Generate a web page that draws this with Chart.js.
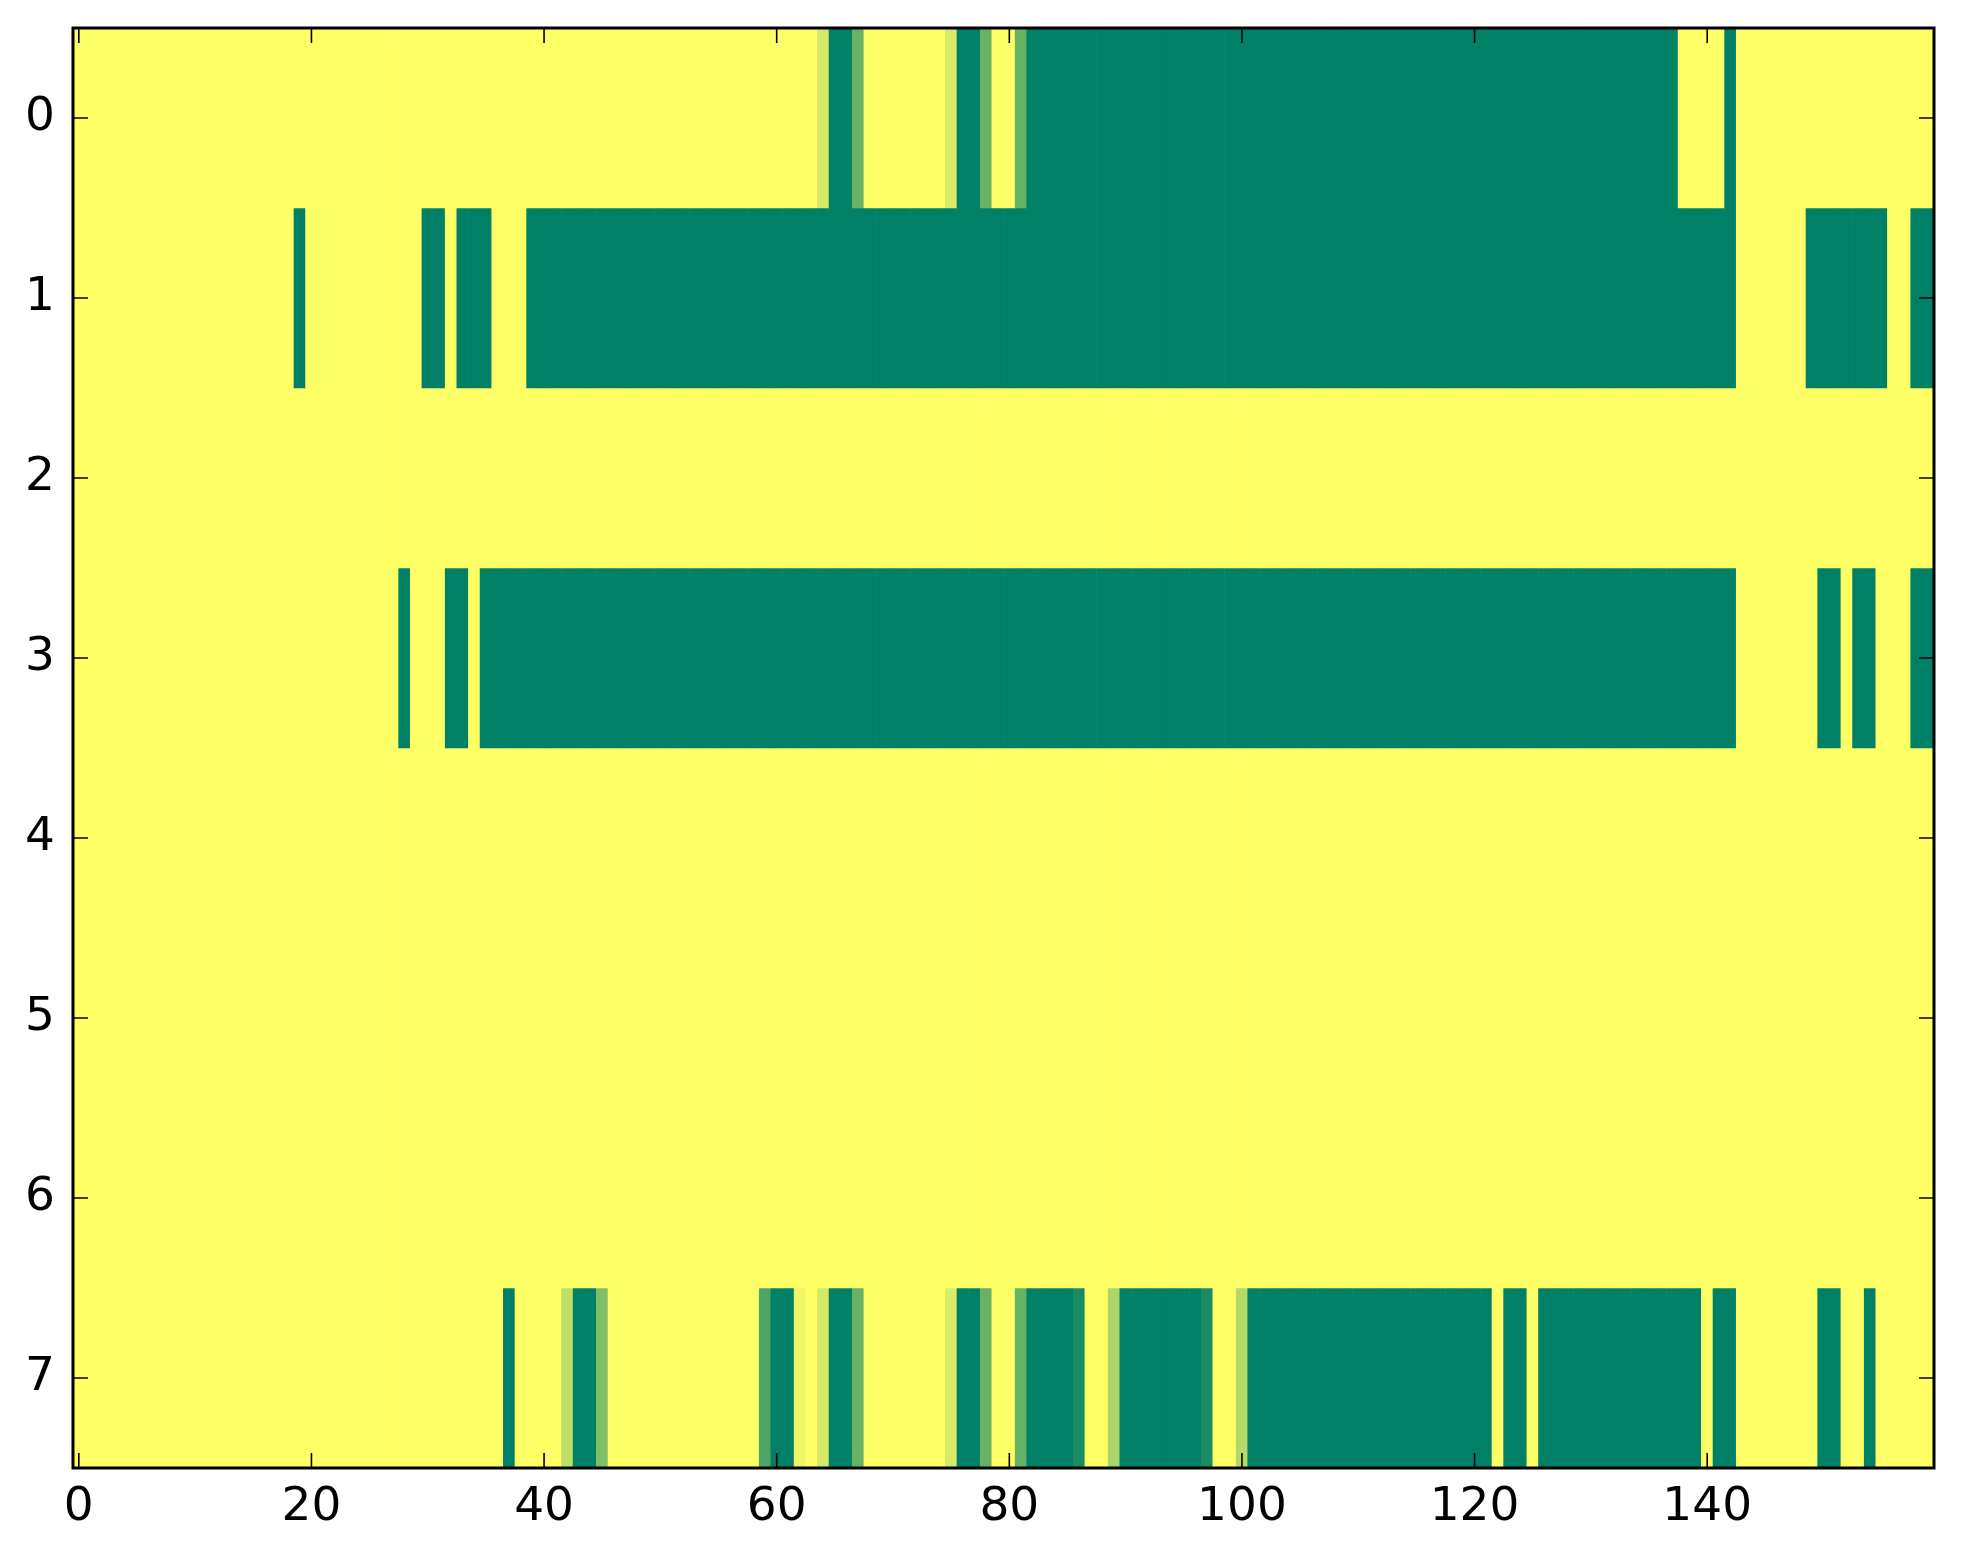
<!DOCTYPE html>
<html><head><meta charset="utf-8">
<script src="https://cdn.jsdelivr.net/npm/chart.js@4.4.0/dist/chart.umd.min.js"></script>
<style>html,body{margin:0;padding:0;background:#fff;}#wrap{width:1963px;height:1564px;position:relative;}</style>
</head><body><div id="wrap"><canvas id="c"></canvas></div>
<script>
const rowLabels = [0,1,2,3,4,5,6,7];
const xTickValues = [0,20,40,60,80,100,120,140];

const row0 = [
0,0,0,0,0,0,0,0,0,0,0,0,0,0,0,0,0,0,0,0,
0,0,0,0,0,0,0,0,0,0,0,0,0,0,0,0,0,0,0,0,
0,0,0,0,0,0,0,0,0,0,0,0,0,0,0,0,0,0,0,0,
0,0,0,0,0.17,1,1,0.6,0,0,0,0,0,0,0,0.15,1,1,0.6,0,
0,0.6,1,1,1,1,1,1,1,1,1,1,1,1,1,1,1,1,1,1,
1,1,1,1,1,1,1,1,1,1,1,1,1,1,1,1,1,1,1,1,
1,1,1,1,1,1,1,1,1,1,1,1,1,1,1,1,1,1,0,0,
0,0,1,0,0,0,0,0,0,0,0,0,0,0,0,0,0,0,0,0];
const row1 = [
0,0,0,0,0,0,0,0,0,0,0,0,0,0,0,0,0,0,0,1,
0,0,0,0,0,0,0,0,0,0,1,1,0,1,1,1,0,0,0,1,
1,1,1,1,1,1,1,1,1,1,1,1,1,1,1,1,1,1,1,1,
1,1,1,1,1,1,1,1,1,1,1,1,1,1,1,1,1,1,1,1,
1,1,1,1,1,1,1,1,1,1,1,1,1,1,1,1,1,1,1,1,
1,1,1,1,1,1,1,1,1,1,1,1,1,1,1,1,1,1,1,1,
1,1,1,1,1,1,1,1,1,1,1,1,1,1,1,1,1,1,1,1,
1,1,1,0,0,0,0,0,0,1,1,1,1,1,1,1,0,0,1,1];
const row2 = [
0,0,0,0,0,0,0,0,0,0,0,0,0,0,0,0,0,0,0,0,
0,0,0,0,0,0,0,0,0,0,0,0,0,0,0,0,0,0,0,0,
0,0,0,0,0,0,0,0,0,0,0,0,0,0,0,0,0,0,0,0,
0,0,0,0,0,0,0,0,0,0,0,0,0,0,0,0,0,0,0,0,
0,0,0,0,0,0,0,0,0,0,0,0,0,0,0,0,0,0,0,0,
0,0,0,0,0,0,0,0,0,0,0,0,0,0,0,0,0,0,0,0,
0,0,0,0,0,0,0,0,0,0,0,0,0,0,0,0,0,0,0,0,
0,0,0,0,0,0,0,0,0,0,0,0,0,0,0,0,0,0,0,0];
const row3 = [
0,0,0,0,0,0,0,0,0,0,0,0,0,0,0,0,0,0,0,0,
0,0,0,0,0,0,0,0,1,0,0,0,1,1,0,1,1,1,1,1,
1,1,1,1,1,1,1,1,1,1,1,1,1,1,1,1,1,1,1,1,
1,1,1,1,1,1,1,1,1,1,1,1,1,1,1,1,1,1,1,1,
1,1,1,1,1,1,1,1,1,1,1,1,1,1,1,1,1,1,1,1,
1,1,1,1,1,1,1,1,1,1,1,1,1,1,1,1,1,1,1,1,
1,1,1,1,1,1,1,1,1,1,1,1,1,1,1,1,1,1,1,1,
1,1,1,0,0,0,0,0,0,0,1,1,0,1,1,0,0,0,1,1];
const row4 = [
0,0,0,0,0,0,0,0,0,0,0,0,0,0,0,0,0,0,0,0,
0,0,0,0,0,0,0,0,0,0,0,0,0,0,0,0,0,0,0,0,
0,0,0,0,0,0,0,0,0,0,0,0,0,0,0,0,0,0,0,0,
0,0,0,0,0,0,0,0,0,0,0,0,0,0,0,0,0,0,0,0,
0,0,0,0,0,0,0,0,0,0,0,0,0,0,0,0,0,0,0,0,
0,0,0,0,0,0,0,0,0,0,0,0,0,0,0,0,0,0,0,0,
0,0,0,0,0,0,0,0,0,0,0,0,0,0,0,0,0,0,0,0,
0,0,0,0,0,0,0,0,0,0,0,0,0,0,0,0,0,0,0,0];
const row5 = [
0,0,0,0,0,0,0,0,0,0,0,0,0,0,0,0,0,0,0,0,
0,0,0,0,0,0,0,0,0,0,0,0,0,0,0,0,0,0,0,0,
0,0,0,0,0,0,0,0,0,0,0,0,0,0,0,0,0,0,0,0,
0,0,0,0,0,0,0,0,0,0,0,0,0,0,0,0,0,0,0,0,
0,0,0,0,0,0,0,0,0,0,0,0,0,0,0,0,0,0,0,0,
0,0,0,0,0,0,0,0,0,0,0,0,0,0,0,0,0,0,0,0,
0,0,0,0,0,0,0,0,0,0,0,0,0,0,0,0,0,0,0,0,
0,0,0,0,0,0,0,0,0,0,0,0,0,0,0,0,0,0,0,0];
const row6 = [
0,0,0,0,0,0,0,0,0,0,0,0,0,0,0,0,0,0,0,0,
0,0,0,0,0,0,0,0,0,0,0,0,0,0,0,0,0,0,0,0,
0,0,0,0,0,0,0,0,0,0,0,0,0,0,0,0,0,0,0,0,
0,0,0,0,0,0,0,0,0,0,0,0,0,0,0,0,0,0,0,0,
0,0,0,0,0,0,0,0,0,0,0,0,0,0,0,0,0,0,0,0,
0,0,0,0,0,0,0,0,0,0,0,0,0,0,0,0,0,0,0,0,
0,0,0,0,0,0,0,0,0,0,0,0,0,0,0,0,0,0,0,0,
0,0,0,0,0,0,0,0,0,0,0,0,0,0,0,0,0,0,0,0];
const row7 = [
0,0,0,0,0,0,0,0,0,0,0,0,0,0,0,0,0,0,0,0,
0,0,0,0,0,0,0,0,0,0,0,0,0,0,0,0,0,1,0,0,
0,0,0.25,1,1,0.5,0,0,0,0,0,0,0,0,0,0,0,0,0,0.7,
1,1,0.06,0,0.17,1,1,0.6,0,0,0,0,0,0,0,0.15,1,1,0.6,0,
0,0.6,1,1,1,1,0.9,0,0,0.33,1,1,1,1,1,1,1,0.9,0,0,
0.3,1,1,1,1,1,1,1,1,1,1,1,1,1,1,1,1,1,1,1,
1,1,0,1,1,0,1,1,1,1,1,1,1,1,1,1,1,1,1,1,
0,1,1,0,0,0,0,0,0,0,1,1,0,0,1,0,0,0,0,0];

const rows = [row0,row1,row2,row3,row4,row5,row6,row7];

// matplotlib "summer_r" colormap
function cmap(v){
  const r = Math.round(255*(1-v));
  const g = Math.round(255*(1-0.5*v));
  return 'rgb(' + r + ',' + g + ',102)';
}

const datasets = rows.map((vals, r) => ({
  label: 'row ' + rowLabels[r],
  data: vals.map((v, c) => ({x: c, y: [rowLabels[r] - 0.5, rowLabels[r] + 0.5]})),
  backgroundColor: vals.map(cmap),
  borderWidth: 0,
  barPercentage: 1,
  categoryPercentage: 1,
  grouped: false
}));

const frame = {
  id: 'frame',
  afterDatasetsDraw(chart){
    const ctx = chart.ctx, a = chart.chartArea, x = chart.scales.x, y = chart.scales.y;
    ctx.save();
    ctx.strokeStyle = '#000';
    ctx.lineWidth = 1.6;
    const L = 15;
    ctx.beginPath();
    xTickValues.forEach(v => {
      const px = x.getPixelForValue(v);
      ctx.moveTo(px, a.bottom); ctx.lineTo(px, a.bottom - L);
      ctx.moveTo(px, a.top); ctx.lineTo(px, a.top + L);
    });
    rowLabels.forEach(v => {
      const py = y.getPixelForValue(v);
      ctx.moveTo(a.left, py); ctx.lineTo(a.left + L, py);
      ctx.moveTo(a.right, py); ctx.lineTo(a.right - L, py);
    });
    ctx.stroke();
    ctx.lineWidth = 3;
    ctx.strokeRect(a.left, a.top, a.right - a.left, a.bottom - a.top);
    ctx.restore();
  }
};

const tickFont = {family: 'DejaVu Sans', size: 47};

new Chart(document.getElementById('c'), {
  type: 'bar',
  data: {datasets},
  options: {
    responsive: true,
    maintainAspectRatio: false,
    devicePixelRatio: 1,
    animation: false,
    events: [],
    layout: {padding: {left: 0, top: 28, right: 29, bottom: 0}},
    plugins: {legend: {display: false}, tooltip: {enabled: false}},
    scales: {
      x: {
        type: 'linear', min: -0.5, max: 159.5, offset: false,
        grid: {display: false, drawTicks: false},
        border: {display: false},
        ticks: {font: tickFont, color: '#000', padding: 12, maxRotation: 0, autoSkip: false},
        afterBuildTicks: s => { s.ticks = xTickValues.map(v => ({value: v})); },
        afterFit: s => { s.height = 96; s.paddingLeft = 0; s.paddingRight = 0; }
      },
      y: {
        type: 'linear', reverse: true, min: -0.5, max: 7.5,
        grid: {display: false, drawTicks: false},
        border: {display: false},
        ticks: {font: tickFont, color: '#000', padding: 18, autoSkip: false},
        afterBuildTicks: s => { s.ticks = rowLabels.map(v => ({value: v})); },
        afterFit: s => { s.width = 73; s.paddingTop = 0; s.paddingBottom = 0; }
      }
    }
  },
  plugins: [frame]
});
</script>
</body></html>
